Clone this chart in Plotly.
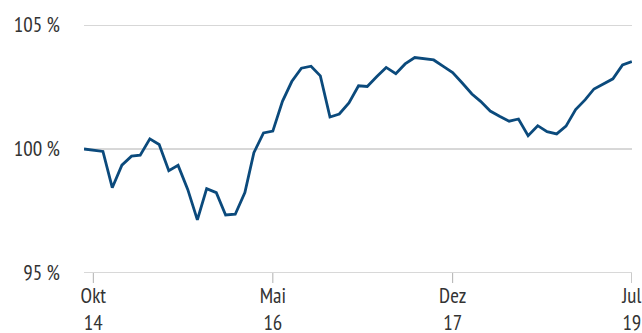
import plotly.graph_objects as go
import pandas as pd

start_month = "2014-09-01"
values = [100.0, 99.95, 99.9, 98.44, 99.35, 99.71, 99.75, 100.41, 100.18, 99.12,
          99.34, 98.37, 97.14, 98.40, 98.24, 97.34, 97.37, 98.24, 99.85, 100.65,
          100.72, 101.92, 102.72, 103.26, 103.34, 102.95, 101.29, 101.41, 101.86, 102.55,
          102.52, 102.92, 103.29, 103.04, 103.43, 103.69, 103.65, 103.59, 103.33, 103.08,
          102.66, 102.22, 101.92, 101.53, 101.32, 101.12, 101.21, 100.54, 100.94, 100.70,
          100.61, 100.92, 101.59, 101.99, 102.42, 102.63, 102.83, 103.39, 103.53]
dates = pd.date_range(start_month, periods=len(values), freq="MS")

x_tickvals = ["2014-10-01", "2016-05-01", "2017-12-01", "2019-07-01"]
x_ticktext = ["Okt<br>14", "Mai<br>16", "Dez<br>17", "Jul<br>19"]
y_tickvals = [95, 100, 105]
y_ticktext = ["95 %", "100 %", "105 %"]

font_family = "PT Sans Narrow, Open Sans Condensed Light, Fira Sans Condensed, sans-serif"
font_size = 21
text_color = "#333333"
grid_color = "#b0b0b0"
plot_height_px = 333 - 25 - 60

fig = go.Figure(go.Scatter(
    x=dates, y=values, mode="lines",
    line=dict(color="#0b4a7c", width=2.8),
    cliponaxis=False, hoverinfo="skip",
))

# horizontal gridlines (including the ones at the range edges)
for v in y_tickvals:
    fig.add_shape(type="line", xref="paper", x0=0, x1=1, yref="y", y0=v, y1=v,
                  line=dict(color=grid_color, width=1), layer="below")

# x tick marks, 10 px below the plot area
for t in x_tickvals:
    fig.add_shape(type="line", xref="x", x0=t, x1=t, yref="paper",
                  y0=0, y1=-10 / plot_height_px,
                  line=dict(color=grid_color, width=1), layer="below")

fig.update_layout(
    width=642, height=333,
    margin=dict(l=84, r=10, t=25, b=60),
    paper_bgcolor="white", plot_bgcolor="white",
    showlegend=False,
    font=dict(family=font_family, size=font_size, color=text_color),
    xaxis=dict(
        range=[dates[0], dates[-1] + pd.Timedelta(hours=12)],
        tickvals=x_tickvals, ticktext=x_ticktext,
        showgrid=False, zeroline=False, showline=False,
        ticks="", ticklabelstandoff=8,
        tickfont=dict(family=font_family, size=font_size, color=text_color),
        automargin=False, fixedrange=True,
    ),
    yaxis=dict(
        range=[95, 105],
        tickvals=y_tickvals, ticktext=y_ticktext,
        showgrid=False, zeroline=False, showline=False,
        ticks="", ticklabelstandoff=23,
        tickfont=dict(family=font_family, size=font_size, color=text_color),
        automargin=False, fixedrange=True,
    ),
)

fig.write_html(
    "out.html",
    config={"displayModeBar": False},
    post_script="document.body.style.margin='0';document.body.style.overflow='hidden';",
)
